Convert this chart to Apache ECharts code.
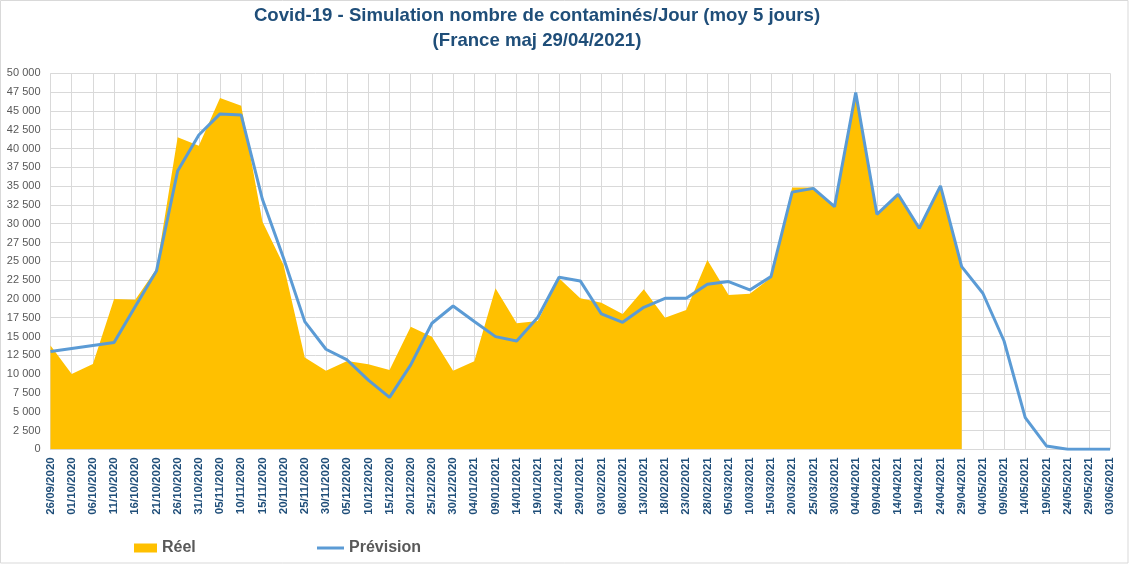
<!DOCTYPE html>
<html>
<head>
<meta charset="utf-8">
<script src="https://cdn.jsdelivr.net/npm/echarts@6/dist/echarts.min.js"></script>
<style>
html,body{margin:0;padding:0;background:#fff;}
#chart{width:1136px;height:566px;}
</style>
</head>
<body>
<div id="chart"></div>
<script>
const categories = ['26/09/2020','01/10/2020','06/10/2020','11/10/2020','16/10/2020','21/10/2020','26/10/2020','31/10/2020','05/11/2020','10/11/2020','15/11/2020','20/11/2020','25/11/2020','30/11/2020','05/12/2020','10/12/2020','15/12/2020','20/12/2020','25/12/2020','30/12/2020','04/01/2021','09/01/2021','14/01/2021','19/01/2021','24/01/2021','29/01/2021','03/02/2021','08/02/2021','13/02/2021','18/02/2021','23/02/2021','28/02/2021','05/03/2021','10/03/2021','15/03/2021','20/03/2021','25/03/2021','30/03/2021','04/04/2021','09/04/2021','14/04/2021','19/04/2021','24/04/2021','29/04/2021','04/05/2021','09/05/2021','14/05/2021','19/05/2021','24/05/2021','29/05/2021','03/06/2021'];

const reel = [13800,10000,11350,20000,19900,24000,41500,40350,46700,45700,30300,24500,12200,10450,11750,11300,10550,16300,14980,10450,11700,21400,16760,17070,22740,20080,19500,18000,21280,17500,18530,25180,20530,20700,22800,34800,34800,32300,47000,31400,33800,29500,35000,24500];

const prevision = [13000,13400,13800,14200,19000,23700,37000,41800,44600,44450,33250,25400,16980,13300,11880,9200,6900,11220,16760,19060,17000,14980,14410,17550,22870,22390,18000,16890,18880,20080,20080,21940,22300,21190,22960,34200,34700,32270,47430,31250,33910,29400,35020,24300,20750,14400,4200,450,0,0,0];

const titleLines = ['Covid-19 - Simulation nombre de contaminés/Jour (moy 5 jours)', '(France maj 29/04/2021)'];

const chart = echarts.init(document.getElementById('chart'));
const fmt = v => String(v).replace(/\B(?=(\d{3})+(?!\d))/g, ' ');
const titleFont = 'bold 18.6px "Liberation Sans", sans-serif';
const legendText = {fontFamily: 'Liberation Sans, sans-serif', fontWeight: 'bold', fontSize: 16, color: '#595959'};

chart.setOption({
  animation: false,
  backgroundColor: '#fff',
  legend: [
    {
      data: [{name: 'Réel', icon: 'rect'}],
      left: 134, top: 540, padding: 0,
      itemWidth: 23, itemHeight: 9, itemGap: 0,
      textStyle: legendText
    },
    {
      data: [{name: 'Prévision', icon: 'rect', itemStyle: {color: '#5B9BD5'}}],
      left: 317, top: 540, padding: 0,
      itemWidth: 27, itemHeight: 3, itemGap: 0,
      textStyle: legendText
    }
  ],
  grid: {left: 50.5, right: 26, top: 73.3, bottom: 116.7, containLabel: false},
  xAxis: {
    type: 'category',
    data: categories,
    boundaryGap: false,
    axisLine: {show: true, lineStyle: {color: '#D9D9D9'}},
    axisTick: {show: false},
    splitLine: {show: true, interval: 0, lineStyle: {color: '#D9D9D9', width: 1}},
    axisLabel: {
      interval: 0, rotate: 90, margin: 8,
      fontFamily: 'Liberation Sans, sans-serif', fontSize: 11.5, fontWeight: 'bold',
      color: '#1F4E79'
    }
  },
  yAxis: {
    type: 'value',
    min: 0, max: 50000, interval: 2500,
    axisLine: {show: false},
    axisTick: {show: false},
    splitLine: {lineStyle: {color: '#D9D9D9', width: 1}},
    axisLabel: {
      formatter: fmt, margin: 10,
      fontFamily: 'Liberation Sans, sans-serif', fontSize: 11, color: '#595959'
    }
  },
  series: [
    {
      name: 'Réel',
      type: 'line',
      data: reel,
      showSymbol: false,
      symbol: 'none',
      lineStyle: {width: 0},
      itemStyle: {color: '#FFC000'},
      areaStyle: {color: '#FFC000', opacity: 1},
      z: 1
    },
    {
      name: 'Prévision',
      type: 'line',
      data: prevision,
      showSymbol: false,
      symbol: 'none',
      itemStyle: {color: '#5B9BD5'},
      lineStyle: {color: '#5B9BD5', width: 3},
      z: 2
    }
  ],
  graphic: [
    {
      type: 'rect',
      shape: {x: 0.5, y: 0.5, width: 1127.5, height: 562.5},
      style: {fill: null, stroke: '#D9D9D9', lineWidth: 1},
      silent: true
    },
    {
      type: 'text', x: 537, y: 16,
      style: {text: titleLines[0], font: titleFont, fill: '#1F4E79', textAlign: 'center', textVerticalAlign: 'middle'}
    },
    {
      type: 'text', x: 537, y: 41,
      style: {text: titleLines[1], font: titleFont, fill: '#1F4E79', textAlign: 'center', textVerticalAlign: 'middle'}
    }
  ]
});
</script>
</body>
</html>
